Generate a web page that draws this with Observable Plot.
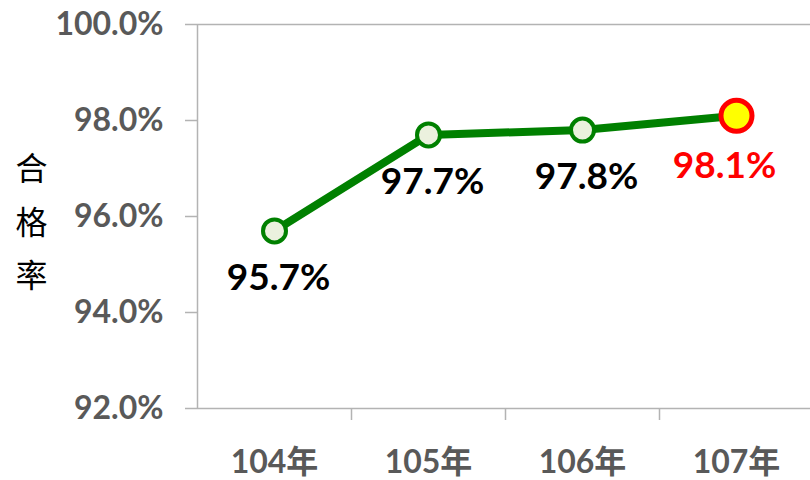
<!DOCTYPE html>
<html>
<head>
<meta charset="utf-8">
<script src="https://cdn.jsdelivr.net/npm/d3@7"></script>
<script src="https://cdn.jsdelivr.net/npm/@observablehq/plot@0.6"></script>
<style>
  html, body { margin: 0; padding: 0; background: #fff; }
</style>
</head>
<body>
<div id="chart"></div>
<script>
const categories = ["104年", "105年", "106年", "107年"];
const values = [95.7, 97.7, 97.8, 98.1];
const labels = ["95.7%", "97.7%", "97.8%", "98.1%"];
const yTicks = [92, 94, 96, 98, 100];
const yTitle = "合\n格\n率";
const highlightIndex = 3;

const data = categories.map((c, i) => ({i, category: c, value: values[i], label: labels[i], hl: i === highlightIndex}));
const normal = data.filter(d => !d.hl);
const hl = data.filter(d => d.hl);

const FONT = "Lato, 'Noto Sans CJK TC', sans-serif";
const GRID = "#b3b3b3";

const chart = Plot.plot({
  width: 810,
  height: 480,
  marginLeft: 197,
  marginRight: 0,
  marginTop: 24,
  marginBottom: 72,
  style: { fontFamily: FONT, background: "#fff", overflow: "visible" },
  x: { type: "linear", domain: [-0.5, 3.5], range: [197, 813] },
  y: { domain: [92, 100] },
  marks: [
    Plot.ruleY([92, 100], { stroke: GRID, strokeWidth: 1.5 }),
    Plot.ruleX([-0.5], { stroke: GRID, strokeWidth: 1.5 }),
    Plot.axisY({
      ticks: yTicks,
      tickFormat: d => d.toFixed(1) + "%",
      tickSize: 12,
      tickPadding: 22,
      stroke: GRID,
      strokeWidth: 1.5,
      strokeOpacity: 1,
      fill: "#595959",
      fontSize: 32,
      fontWeight: "bold",
      label: null
    }),
    Plot.axisX({
      ticks: [0.5, 1.5, 2.5],
      tickSize: 12,
      tickFormat: () => "",
      stroke: GRID,
      strokeWidth: 1.5,
      strokeOpacity: 1,
      label: null
    }),
    Plot.axisX({
      ticks: categories.map((c, i) => i),
      tickSize: 0,
      tickPadding: 42,
      tickFormat: i => categories[i],
      fill: "#595959",
      fontSize: 32,
      fontWeight: "bold",
      label: null
    }),
    Plot.text([yTitle], {
      frameAnchor: "left",
      textAnchor: "middle",
      dx: -166,
      dy: 0,
      fontSize: 32,
      lineHeight: 1.66,
      fill: "#000",
      fontFamily: "'Noto Sans CJK TC', sans-serif"
    }),
    Plot.line(data, { x: "i", y: "value", stroke: "#008000", strokeWidth: 8 }),
    Plot.dot(normal, { x: "i", y: "value", r: 11.5, fill: "#ebf1de", stroke: "#008000", strokeWidth: 4 }),
    Plot.dot(hl, { x: "i", y: "value", r: 15.5, fill: "#ffff00", stroke: "#ff0000", strokeWidth: 5 }),
    Plot.text(normal, { x: "i", y: "value", text: "label", dy: 47, dx: 4, fontSize: 37, fontWeight: "bold", fill: "#000" }),
    Plot.text(hl, { x: "i", y: "value", text: "label", dy: 50, dx: -12, fontSize: 37, fontWeight: "bold", fill: "#ff0000" })
  ]
});
document.getElementById("chart").appendChild(chart);
</script>
</body>
</html>
